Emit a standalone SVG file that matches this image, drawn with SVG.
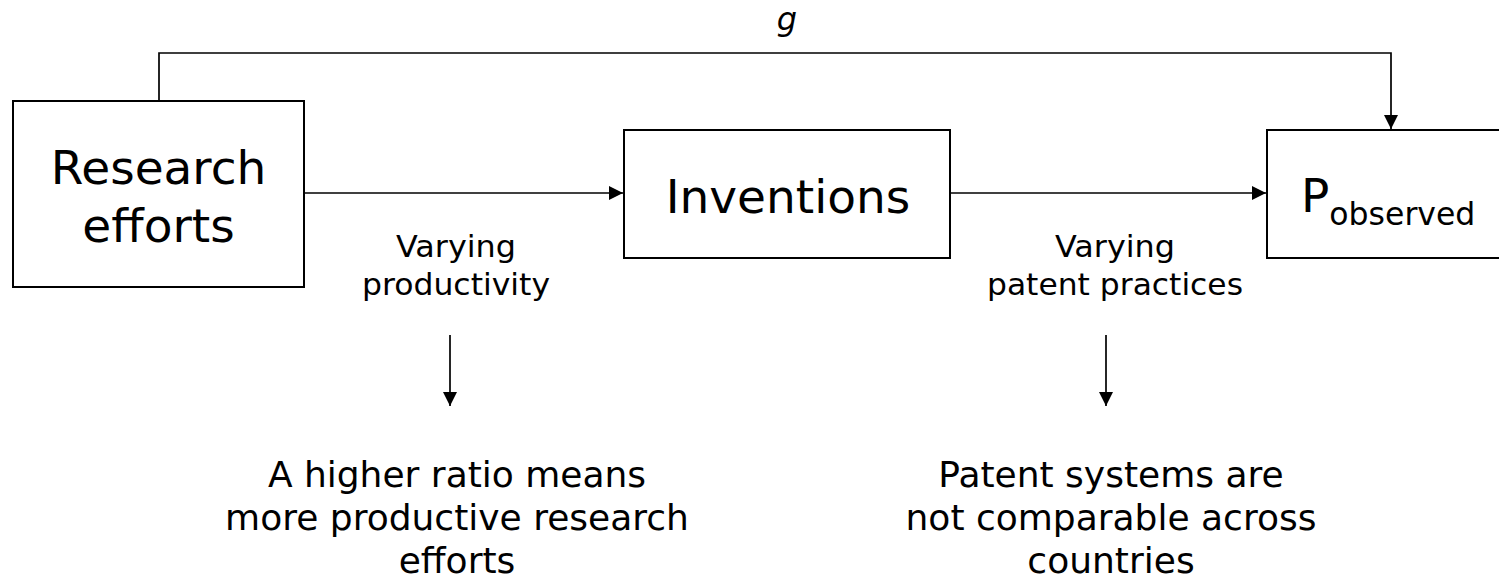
<svg xmlns="http://www.w3.org/2000/svg" width="1499" height="582" viewBox="0 0 1499 582">
<style>
  .box { fill: #fff; stroke: #000; stroke-width: 2; }
  .conn { fill: none; stroke: #000; stroke-width: 1.7; }
  text { font-family: "DejaVu Sans", Verdana, sans-serif; fill: #000; text-anchor: middle; }
  .big { font-size: 47px; }
  .small { font-size: 30px; }
  .note { font-size: 36px; }
  .sub { font-size: 31.5px; }
</style>
<defs>
  <marker id="arr" markerUnits="userSpaceOnUse" markerWidth="15" markerHeight="15" refX="14" refY="7" orient="auto">
    <path d="M0,0 L14,7 L0,14 z" fill="#000"/>
  </marker>
</defs>
<rect width="1499" height="582" fill="#fff"/>
<g id="connectors">
  <path class="conn" d="M159,101 V53 H1391 V129" marker-end="url(#arr)"/>
  <path class="conn" d="M304,193 H623" marker-end="url(#arr)"/>
  <path class="conn" d="M950,193 H1266" marker-end="url(#arr)"/>
  <path class="conn" d="M450,335 V406" marker-end="url(#arr)"/>
  <path class="conn" d="M1106,335 V406" marker-end="url(#arr)"/>
</g>
<g id="label-g">
  <text x="787" y="30" style="font-size:32px;font-style:italic">g</text>
</g>
<g id="node-research">
  <rect class="box" x="13" y="101" width="291" height="186"/>
  <text class="big" x="158.5" y="184">Research</text>
  <text class="big" x="158.5" y="242">efforts</text>
</g>
<g id="node-inventions">
  <rect class="box" x="624" y="130" width="326" height="128"/>
  <text class="big" x="788" y="213">Inventions</text>
</g>
<g id="node-pobserved">
  <rect class="box" x="1267" y="130" width="260" height="128"/>
  <text class="big" x="1301" y="212" style="text-anchor:start">P<tspan class="sub" dy="13">observed</tspan></text>
</g>
<g id="label-productivity">
  <text class="small" x="456" y="257" textLength="120" lengthAdjust="spacingAndGlyphs">Varying</text>
  <text class="small" x="456" y="295" textLength="188" lengthAdjust="spacingAndGlyphs">productivity</text>
</g>
<g id="label-patent">
  <text class="small" x="1115" y="257" textLength="120" lengthAdjust="spacingAndGlyphs">Varying</text>
  <text class="small" x="1115" y="295" textLength="256" lengthAdjust="spacingAndGlyphs">patent practices</text>
</g>
<g id="note-left">
  <text class="note" x="457" y="487">A higher ratio means</text>
  <text class="note" x="457" y="530">more productive research</text>
  <text class="note" x="457" y="573">efforts</text>
</g>
<g id="note-right">
  <text class="note" x="1111" y="487">Patent systems are</text>
  <text class="note" x="1111" y="530">not comparable across</text>
  <text class="note" x="1111" y="573">countries</text>
</g>
</svg>
